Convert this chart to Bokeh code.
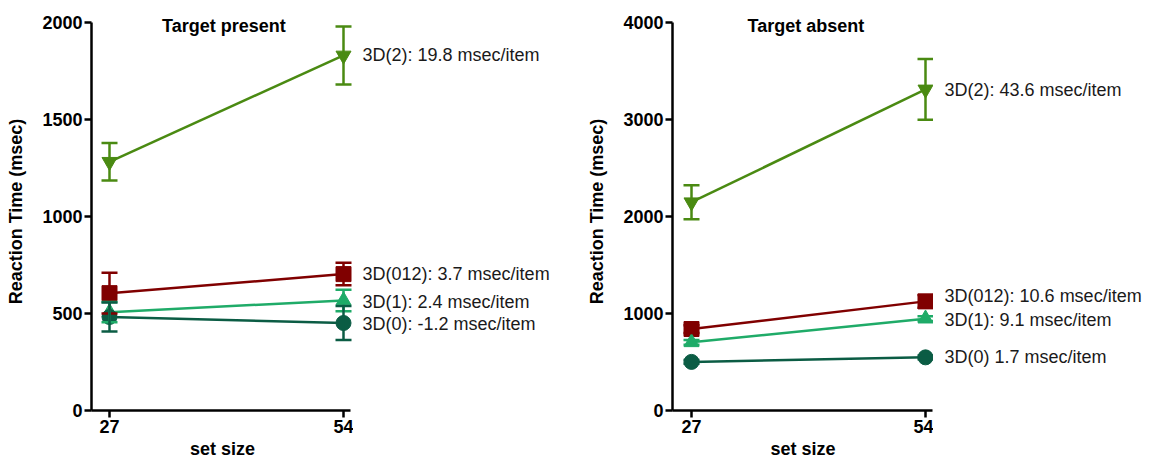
from bokeh.plotting import figure
from bokeh.layouts import row
from bokeh.models import (ColumnDataSource, Range1d, FixedTicker, Whisker, TeeHead,
                          LabelSet, Label)
from bokeh.core.properties import value
from bokeh.embed import file_html
from bokeh.resources import INLINE

# ---- data ----
set_sizes = [27, 54]
series = ["3D(2)", "3D(012)", "3D(1)", "3D(0)"]
colors = ["#4a8a12", "#800000", "#1fab68", "#0b5c44"]
markers = ["inverted_triangle", "square", "triangle", "circle"]

present_mean = {"3D(2)": [1282, 1830], "3D(012)": [605, 703],
                "3D(1)": [507, 567], "3D(0)": [482, 451]}
present_err = {"3D(2)": [97, 150], "3D(012)": [105, 58],
               "3D(1)": [52, 55], "3D(0)": [75, 88]}
absent_mean = {"3D(2)": [2147, 3310], "3D(012)": [840, 1125],
               "3D(1)": [703, 947], "3D(0)": [501, 548]}
absent_err = {"3D(2)": [175, 313], "3D(012)": [40, 65],
              "3D(1)": [25, 25], "3D(0)": [20, 20]}

present_labels = ["3D(2): 19.8 msec/item", "3D(012): 3.7 msec/item",
                  "3D(1): 2.4 msec/item", "3D(0): -1.2 msec/item"]
present_label_y = [1830, 703, 557, 447]
absent_labels = ["3D(2): 43.6 msec/item", "3D(012): 10.6 msec/item",
                 "3D(1): 9.1 msec/item", "3D(0) 1.7 msec/item"]
absent_label_y = [3300, 1176, 936, 555]

present_yticks = [0, 500, 1000, 1500, 2000]
absent_yticks = [0, 1000, 2000, 3000, 4000]

FONT = "Liberation Sans"

# ---- layout constants (pixels) ----
FIG_H = 461
BORDER_TOP = 12
TOP_TICK = 10           # from frame top to the top y tick
BORDER_BOTTOM = 51
PX_PER_UNIT = 234 / 27  # horizontal scale
LEFT_BORDER = 91
LABEL_X = 56.2


def make_panel(title, means, errs, yticks, ymax, frame_w, left_pad):
    frame_h = FIG_H - BORDER_TOP - BORDER_BOTTOM
    scale = (frame_h - TOP_TICK) / ymax
    y_range = Range1d(0, ymax + TOP_TICK / scale)
    x_start = set_sizes[0] - left_pad / PX_PER_UNIT
    x_end = x_start + frame_w / PX_PER_UNIT
    x_axis_end = set_sizes[1] + 7 / PX_PER_UNIT

    p = figure(width=LEFT_BORDER + frame_w, height=FIG_H, output_backend="svg",
               toolbar_location=None,
               x_range=Range1d(x_start, x_end), y_range=y_range,
               min_border_left=LEFT_BORDER, min_border_right=0,
               min_border_top=BORDER_TOP, min_border_bottom=BORDER_BOTTOM)
    p.outline_line_color = None
    p.grid.visible = False
    p.background_fill_color = "white"
    p.border_fill_color = "white"

    for ax in (p.xaxis[0], p.yaxis[0]):
        ax.axis_line_width = 2.5
        ax.axis_line_color = "black"
        ax.major_tick_line_width = 2.5
        ax.major_tick_line_color = "black"
        ax.major_tick_out = 7
        ax.major_tick_in = 0
        ax.minor_tick_line_color = None
        ax.major_label_text_font = FONT
        ax.major_label_text_font_style = "bold"
        ax.major_label_text_font_size = "18px"
        ax.major_label_text_color = "black"
        ax.axis_label_text_font = FONT
        ax.axis_label_text_font_style = "bold"
        ax.axis_label_text_font_size = "18px"
        ax.axis_label_text_color = "black"
    p.xaxis.ticker = FixedTicker(ticks=set_sizes)
    p.yaxis.ticker = FixedTicker(ticks=yticks)
    p.xaxis.bounds = (x_start, x_axis_end)
    p.yaxis.bounds = (0, ymax)
    p.xaxis.axis_label = "set size"
    p.yaxis.axis_label = "Reaction Time (msec)"
    p.xaxis.major_label_standoff = 2
    p.xaxis.axis_label_standoff = 3
    p.yaxis.major_label_standoff = 2
    p.yaxis.axis_label_standoff = 13

    for name, col, mk in zip(series, colors, markers):
        m = means[name]
        e = errs[name]
        src = ColumnDataSource(dict(
            x=set_sizes, y=m,
            upper=[a + b for a, b in zip(m, e)],
            lower=[a - b for a, b in zip(m, e)]))
        w = Whisker(source=src, base="x", upper="upper", lower="lower",
                    line_color=col, line_width=2.5, level="glyph",
                    upper_head=TeeHead(size=16, line_color=col, line_width=2.5),
                    lower_head=TeeHead(size=16, line_color=col, line_width=2.5))
        p.add_layout(w)
        p.line("x", "y", source=src, line_color=col, line_width=2.5)
        p.scatter("x", "y", source=src, marker=mk, size=15,
                  fill_color=col, line_color=col)

    p.add_layout(Label(x=(set_sizes[0] + set_sizes[1]) / 2 - 0.3, y=ymax, y_offset=-3,
                       text=title, text_font=FONT,
                       text_font_style="bold", text_font_size="18px",
                       text_align="center", text_baseline="middle",
                       text_color="black"))
    return p, x_end


def make_labels(y_range, x_start, width, labels, label_y):
    q = figure(width=width, height=FIG_H, output_backend="svg", toolbar_location=None,
               x_range=Range1d(x_start, x_start + width / PX_PER_UNIT), y_range=y_range,
               x_axis_location=None, y_axis_location=None,
               min_border_left=0, min_border_right=0,
               min_border_top=BORDER_TOP, min_border_bottom=BORDER_BOTTOM)
    q.outline_line_color = None
    q.grid.visible = False
    lsrc = ColumnDataSource(dict(x=[LABEL_X] * len(labels), y=label_y, text=labels))
    q.add_layout(LabelSet(source=lsrc, x="x", y="y", text="text",
                          text_font=value(FONT), text_font_size="18px",
                          text_baseline="middle", text_align="left",
                          text_color="#1a1a1a"))
    return q


p1, x1_end = make_panel("Target present", present_mean, present_err,
                        present_yticks, 2000, 262, 18)
l1 = make_labels(p1.y_range, x1_end, 228, present_labels, present_label_y)
p2, x2_end = make_panel("Target absent", absent_mean, absent_err,
                        absent_yticks, 4000, 261, 19)
l2 = make_labels(p2.y_range, x2_end, 216, absent_labels, absent_label_y)

layout = row(p1, l1, p2, l2)
open("out.html", "w").write(file_html(layout, INLINE))
